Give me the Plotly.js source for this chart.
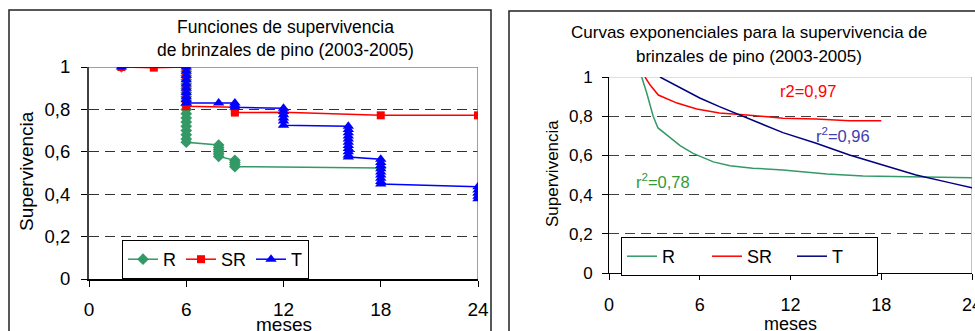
<!DOCTYPE html>
<html>
<head>
<meta charset="utf-8">
<script src="https://cdn.plot.ly/plotly-3.0.1.min.js"></script>
<style>html,body{margin:0;padding:0;background:#fff;}#chart{width:975px;height:331px;}</style>
</head>
<body>
<div id="chart"></div>
<script>
// ---------- Left chart: Kaplan-Meier survival (step data, stacked markers) ----------
const xTicks = [0, 6, 12, 18, 24];
const yTicks = [0, 0.2, 0.4, 0.6, 0.8, 1];

const R_x = [2, 6, 6, 6, 6, 6, 6, 6, 6, 6, 6, 6, 6, 6, 6, 6, 6, 6, 6, 6,
             8, 8, 8, 8, 8, 8, 9, 9, 9, 9, 18];
const R_y = [1, 1, 0.98, 0.96, 0.94, 0.92, 0.90, 0.88, 0.86, 0.84, 0.82, 0.80, 0.78, 0.76, 0.74, 0.72, 0.70, 0.68, 0.66, 0.645,
             0.632, 0.62, 0.61, 0.60, 0.59, 0.578, 0.56, 0.55, 0.54, 0.53, 0.523];

const SR_x = [2, 4, 6, 6, 6, 6, 6, 9, 9, 9, 12, 18, 24];
const SR_y = [1, 0.997, 1, 0.95, 0.90, 0.85, 0.815, 0.81, 0.795, 0.785, 0.787, 0.772, 0.772];

const T_x = [2, 6, 6, 6, 6, 6, 6, 6, 6, 6, 6, 8, 9, 9, 9,
             12, 12, 12, 12, 12, 12,
             16, 16, 16, 16, 16, 16, 16, 16, 16, 16, 16,
             18, 18, 18, 18, 18, 18, 18, 18, 18,
             24, 24, 24, 24, 24];
const T_y = [1, 1, 0.98, 0.96, 0.94, 0.92, 0.90, 0.88, 0.86, 0.845, 0.83, 0.83, 0.83, 0.82, 0.81,
             0.805, 0.79, 0.775, 0.76, 0.745, 0.725,
             0.72, 0.705, 0.69, 0.675, 0.66, 0.645, 0.63, 0.615, 0.60, 0.585, 0.575,
             0.565, 0.55, 0.535, 0.52, 0.505, 0.49, 0.475, 0.46, 0.448,
             0.435, 0.42, 0.405, 0.39, 0.378];

// ---------- Right chart: exponential fit curves ----------
const Rf_x = [2.16, 2.49, 2.92, 3.24, 3.9, 4.7, 5.56, 6.9, 8.0, 9.5, 11.5, 14.4, 16.8, 20.3, 22.5, 24];
const Rf_y = [1.0, 0.92, 0.80, 0.74, 0.70, 0.65, 0.61, 0.567, 0.547, 0.535, 0.525, 0.505, 0.495, 0.49, 0.486, 0.486];

const SRf_x = [2.38, 2.71, 3.26, 4.5, 5.8, 7.3, 9.1, 11.5, 13.7, 15.9, 18.0];
const SRf_y = [1.0, 0.96, 0.908, 0.867, 0.837, 0.816, 0.806, 0.79, 0.786, 0.777, 0.777];

const Tf_x = [3.37, 4.7, 6.0, 7.3, 8.66, 10.0, 11.5, 13.7, 15.9, 18.1, 20.3, 22.5, 24];
const Tf_y = [1.0, 0.944, 0.893, 0.849, 0.806, 0.764, 0.716, 0.662, 0.602, 0.551, 0.50, 0.461, 0.435];

const names = ['R', 'SR', 'T'];
const r2Labels = ['r<sup>2</sup>=0,78', 'r2=0,97', 'r<sup>2</sup>=0,96'];
const titleLeft = ['Funciones de supervivencia', 'de brinzales de pino (2003-2005)'];
const titleRight = ['Curvas exponenciales para la supervivencia de', 'brinzales de pino (2003-2005)'];

const W = 975, H = 331;
const FONT = 'Liberation Sans, Arial, sans-serif';
const px = x => x / W;
const py = y => 1 - y / H;

const traces = [
  {x: R_x, y: R_y, name: names[0], type: 'scatter', mode: 'lines+markers', xaxis: 'x', yaxis: 'y',
   line: {color: '#339966', width: 1.5}, marker: {symbol: 'diamond', size: 9, color: '#339966'}, legend: 'legend'},
  {x: SR_x, y: SR_y, name: names[1], type: 'scatter', mode: 'lines+markers', xaxis: 'x', yaxis: 'y',
   line: {color: '#FF0000', width: 1.5}, marker: {symbol: 'square', size: 8, color: '#FF0000'}, legend: 'legend'},
  {x: T_x, y: T_y, name: names[2], type: 'scatter', mode: 'lines+markers', xaxis: 'x', yaxis: 'y',
   line: {color: '#0000FF', width: 1.5}, marker: {symbol: 'triangle-up', size: 10, color: '#0000FF'}, legend: 'legend'},
  {x: Rf_x, y: Rf_y, name: names[0], type: 'scatter', mode: 'lines', xaxis: 'x2', yaxis: 'y2',
   line: {color: '#339966', width: 1.5}, legend: 'legend2'},
  {x: SRf_x, y: SRf_y, name: names[1], type: 'scatter', mode: 'lines', xaxis: 'x2', yaxis: 'y2',
   line: {color: '#FF0000', width: 1.5}, legend: 'legend2'},
  {x: Tf_x, y: Tf_y, name: names[2], type: 'scatter', mode: 'lines', xaxis: 'x2', yaxis: 'y2',
   line: {color: '#000080', width: 1.5}, legend: 'legend2'}
];

const axBase = {
  range: [0, 24], tickvals: xTicks, ticks: 'outside', ticklen: 6, tickcolor: '#000', tickwidth: 1,
  showgrid: false, zeroline: false, showline: true, linecolor: '#000', linewidth: 1.5,
  tickfont: {family: FONT, size: 19, color: '#000'}, fixedrange: true, ticklabeloverflow: 'allow'
};
const ayBase = {
  range: [0, 1], tickvals: yTicks, ticks: 'outside', ticklen: 6, tickcolor: '#000', tickwidth: 1,
  showgrid: true, gridcolor: '#333', gridwidth: 1.3, griddash: '10px,6px',
  zeroline: false, showline: true, linecolor: '#404040', linewidth: 2,
  tickfont: {family: FONT, size: 18.5, color: '#000'}, fixedrange: true
};

const layout = {
  width: W, height: H, autosize: false,
  margin: {l: 0, r: 0, t: 0, b: 0, pad: 0},
  paper_bgcolor: '#fff', plot_bgcolor: '#fff',
  separators: ',.',
  font: {family: FONT, color: '#000'},
  xaxis: Object.assign({}, axBase, {domain: [px(89), px(478)], anchor: 'y', ticklabelstandoff: 7}),
  yaxis: Object.assign({}, ayBase, {domain: [py(279), py(67)], anchor: 'x', ticklabelstandoff: 7}),
  xaxis2: Object.assign({}, axBase, {domain: [px(609), px(972)], anchor: 'y2', linewidth: 1, tickfont: {family: FONT, size: 18, color: '#000'}, ticklabelstandoff: 9}),
  yaxis2: Object.assign({}, ayBase, {domain: [py(273), py(77)], anchor: 'x2', linecolor: '#000', linewidth: 1, gridcolor: '#404040', tickfont: {family: FONT, size: 17, color: '#000'}, ticklabelstandoff: 6}),
  legend: {x: px(122), y: py(240), xanchor: 'left', yanchor: 'top', orientation: 'h',
           bordercolor: '#000', borderwidth: 1, bgcolor: '#fff', font: {family: FONT, size: 18, color: '#000'},
           tracegroupgap: 0, itemclick: false},
  legend2: {x: px(621), y: py(237), xanchor: 'left', yanchor: 'top', orientation: 'h',
           bordercolor: '#000', borderwidth: 1, bgcolor: '#fff', font: {family: FONT, size: 18, color: '#000'},
           entrywidth: 40, itemclick: false},
  showlegend: true,
  shapes: [
    // outer boxes
    {type: 'rect', xref: 'paper', yref: 'paper', x0: px(9), x1: px(491), y0: py(340), y1: py(10), line: {color: '#222', width: 1.5}, layer: 'below'},
    {type: 'rect', xref: 'paper', yref: 'paper', x0: px(509), x1: px(990), y0: py(340), y1: py(11), line: {color: '#222', width: 1.5}, layer: 'below'},
    // plot area borders (top and right)
    {type: 'line', xref: 'x', yref: 'y', x0: 0, x1: 24, y0: 1, y1: 1, line: {color: '#808080', width: 1.5}, layer: 'between'},
    {type: 'line', xref: 'x', yref: 'y', x0: 24, x1: 24, y0: 0, y1: 1, line: {color: '#808080', width: 1.5}, layer: 'between'},
    {type: 'line', xref: 'x2', yref: 'y2', x0: 0, x1: 24, y0: 1, y1: 1, line: {color: '#c0c0c0', width: 1}, layer: 'below'},
    {type: 'line', xref: 'x2', yref: 'y2', x0: 24, x1: 24, y0: 0, y1: 1, line: {color: '#808080', width: 1}, layer: 'between'}
  ],
  annotations: [
    {text: titleLeft[0], x: px(285), y: py(27), xref: 'paper', yref: 'paper', xanchor: 'center', yanchor: 'middle', showarrow: false, font: {family: FONT, size: 17.5, color: '#000'}},
    {text: titleLeft[1], x: px(285), y: py(50), xref: 'paper', yref: 'paper', xanchor: 'center', yanchor: 'middle', showarrow: false, font: {family: FONT, size: 17.5, color: '#000'}},
    {text: titleRight[0], x: px(749), y: py(33), xref: 'paper', yref: 'paper', xanchor: 'center', yanchor: 'middle', showarrow: false, font: {family: FONT, size: 17, color: '#000'}},
    {text: titleRight[1], x: px(749), y: py(56), xref: 'paper', yref: 'paper', xanchor: 'center', yanchor: 'middle', showarrow: false, font: {family: FONT, size: 17, color: '#000'}},
    {text: 'Supervivencia', x: px(26), y: py(171), xref: 'paper', yref: 'paper', textangle: -90, xanchor: 'center', yanchor: 'middle', showarrow: false, font: {family: FONT, size: 19, color: '#000'}},
    {text: 'Supervivencia', x: px(553), y: py(174), xref: 'paper', yref: 'paper', textangle: -90, xanchor: 'center', yanchor: 'middle', showarrow: false, font: {family: FONT, size: 17, color: '#000'}},
    {text: 'meses', x: px(284), y: py(324), xref: 'paper', yref: 'paper', xanchor: 'center', yanchor: 'middle', showarrow: false, font: {family: FONT, size: 19, color: '#000'}},
    {text: 'meses', x: px(790), y: py(324), xref: 'paper', yref: 'paper', xanchor: 'center', yanchor: 'middle', showarrow: false, font: {family: FONT, size: 18, color: '#000'}},
    {text: r2Labels[1], x: px(808), y: py(91), xref: 'paper', yref: 'paper', xanchor: 'center', yanchor: 'middle', showarrow: false, font: {family: FONT, size: 16.5, color: '#FF0000'}},
    {text: r2Labels[2], x: px(843), y: py(135), xref: 'paper', yref: 'paper', xanchor: 'center', yanchor: 'middle', showarrow: false, font: {family: FONT, size: 16.5, color: '#4040B0'}},
    {text: r2Labels[0], x: px(663), y: py(181), xref: 'paper', yref: 'paper', xanchor: 'center', yanchor: 'middle', showarrow: false, font: {family: FONT, size: 16.5, color: '#339933'}}
  ]
};

Plotly.newPlot('chart', traces, layout, {staticPlot: true, displayModeBar: false});
</script>
</body>
</html>
